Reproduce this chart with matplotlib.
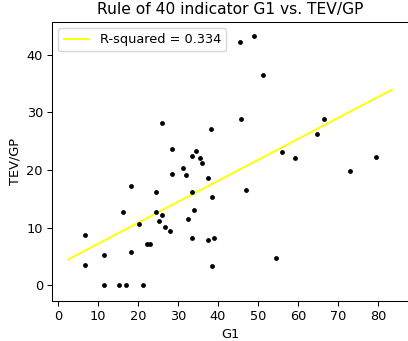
import matplotlib
matplotlib.use("Agg")
import matplotlib.pyplot as plt
import numpy as np

# Data
g1 = [26.0, 38.2, 28.6, 34.6, 33.6, 35.6, 36.0, 31.2, 45.5, 48.9,
      51.2, 45.8, 66.5, 64.8, 56.0, 59.2, 79.6, 73.0, 28.6, 32.1,
      37.5, 18.1, 24.4, 33.6, 38.5, 16.1, 24.4, 26.1, 34.0, 20.3,
      32.4, 25.3, 26.7, 28.0, 6.6, 33.6, 37.5, 39.1, 22.2, 23.0,
      11.4, 18.1, 6.6, 38.5, 11.4, 15.2, 16.9, 21.3, 54.4, 47.1]
tev_gp = [28.2, 27.1, 23.6, 23.3, 22.4, 22.0, 21.2, 20.3, 42.2, 43.3,
          36.4, 28.9, 28.9, 26.2, 23.1, 22.0, 22.2, 19.8, 19.3, 19.1,
          18.6, 17.3, 16.2, 16.2, 15.3, 12.7, 12.7, 12.2, 13.1, 10.7,
          11.5, 11.1, 10.2, 9.5, 8.7, 8.2, 7.8, 8.2, 7.1, 7.1,
          5.3, 5.8, 3.5, 3.3, 0.0, 0.0, 0.0, 0.0, 4.7, 16.6]

fit_x_range = [2.5, 83.5]
fit_slope = 0.363
fit_intercept = 3.59
r_squared = 0.334

title = "Rule of 40 indicator G1 vs. TEV/GP"
xlabel = "G1"
ylabel = "TEV/GP"

DPI = 93
fig = plt.figure(figsize=(409 / DPI, 341 / DPI), dpi=DPI)
ax = fig.add_axes([52 / 409, 1 - 301 / 341, 356 / 409, (301 - 21.7) / 341])

ax.scatter(g1, tev_gp, s=14, color="black", linewidths=0, zorder=3)
fx = np.array(fit_x_range)
ax.plot(fx, fit_intercept + fit_slope * fx, color="yellow", linewidth=1.5,
        label=f"R-squared = {r_squared}")

ax.set_xlim(-1.55, 87.55)
ax.set_ylim(-2.7, 45.7)
ax.set_xticks([0, 10, 20, 30, 40, 50, 60, 70, 80])
ax.set_yticks([0, 10, 20, 30, 40])
ax.set_title(title, fontsize=12)
ax.set_xlabel(xlabel, fontsize=10)
ax.set_ylabel(ylabel, fontsize=10)
ax.legend(loc="upper left", fontsize=10)

fig.savefig("out.png", dpi=DPI)
